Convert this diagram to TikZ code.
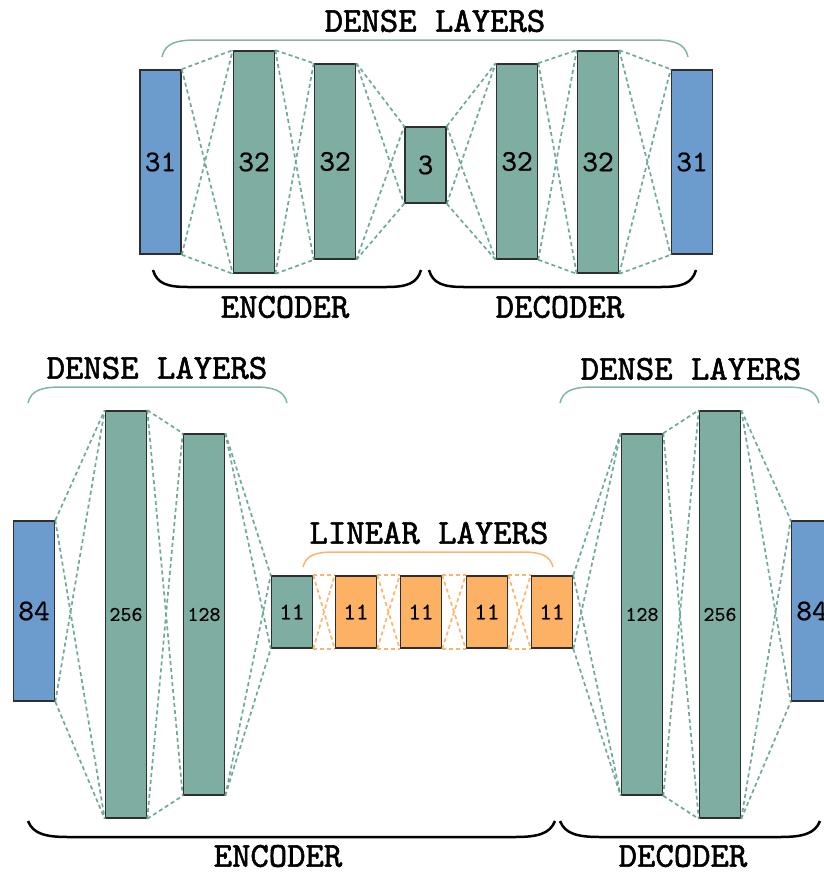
\documentclass[tikz,border=0pt]{standalone}
\usepackage{fontspec}
\newfontfamily\labfont{lmmono10-regular}[Extension=.otf, FakeBold=1.6]
\newfontfamily\numfont{lmmono10-regular}[Extension=.otf, FakeBold=0.6]
\definecolor{tealfill}{HTML}{7EADA2}
\definecolor{bluefill}{HTML}{6C9BCE}
\definecolor{orangefill}{HTML}{FDB165}
\definecolor{tealline}{HTML}{6FA99C}
\definecolor{orangeline}{HTML}{FDB46C}
\definecolor{tealbr}{HTML}{80B5A9}
\definecolor{orangebr}{HTML}{FDB46C}
\definecolor{boxline}{HTML}{2E2E2E}
\tikzset{
  layer/.style={draw=boxline, line width=1.6pt, inner sep=0pt, minimum width=41pt,
    font=\numfont\fontsize{30}{34}\selectfont},
  tl/.style={layer, fill=tealfill},
  bl/.style={layer, fill=bluefill},
  ol/.style={layer, fill=orangefill},
  conn/.style={draw=tealline, line width=1.7pt, dash pattern=on 4pt off 3pt},
  oconn/.style={draw=orangeline, line width=1.7pt, dash pattern=on 4pt off 3pt},
  tbrace/.style={draw=tealbr, line width=1.5pt},
  obrace/.style={draw=orangebr, line width=1.5pt},
  kbrace/.style={draw=black, line width=2.5pt},
  lab/.style={inner sep=0pt, font=\labfont\fontsize{35}{40}\selectfont},
  mid/.style={font=\numfont\fontsize{21}{24}\selectfont},
  sml/.style={font=\numfont\fontsize{24}{28}\selectfont}
}
\newcommand\linkup[3]{%
  \draw[#1] (#2.north east) -- (#3.north west);
  \draw[#1] (#2.south east) -- (#3.south west);
  \draw[#1] (#2.north east) -- (#3.south west);
  \draw[#1] (#2.south east) -- (#3.north west);}
\begin{document}
\begin{tikzpicture}[x=1pt,y=-1pt]
\useasboundingbox (0,0) rectangle (823,873);
% ---------- top network ----------
\node[bl, minimum height=184pt] (t1) at (160.5,162) {31};
\node[tl, minimum height=222pt] (t2) at (254,162) {32};
\node[tl, minimum height=195pt] (t3) at (335,161.5) {32};
\node[tl, minimum height=76pt]  (t4) at (425.5,165) {3};
\node[tl, minimum height=195pt] (t5) at (517,161.5) {32};
\node[tl, minimum height=222pt] (t6) at (598,162) {32};
\node[bl, minimum height=184pt] (t7) at (692,162) {31};
\linkup{conn}{t1}{t2}
\linkup{conn}{t2}{t3}
\linkup{conn}{t3}{t4}
\linkup{conn}{t4}{t5}
\linkup{conn}{t5}{t6}
\linkup{conn}{t6}{t7}
\draw[tbrace] (162,57) .. controls (165,43) and (176,40) .. (197,40) -- (653,40) .. controls (674,40) and (685,43) .. (688,57);
\node[lab] (tdense) at (435,21) {DENSE LAYERS};
\draw[kbrace] (153,270) .. controls (157,284) and (168,287) .. (188,287) -- (386,287) .. controls (406,287) and (417,284) .. (421,270);
\draw[kbrace] (429,270) .. controls (433,284) and (444,287) .. (464,287) -- (661,287) .. controls (681,287) and (692,284) .. (696,270);
\node[lab] (tenc) at (285,307) {ENCODER};
\node[lab] (tdec) at (560,307) {DECODER};
% ---------- bottom network ----------
\node[bl, minimum height=180pt] (b1) at (34,611) {84};
\node[tl, mid, minimum height=407pt] (b2) at (126,614.5) {256};
\node[tl, mid, minimum height=361pt] (b3) at (204,614.5) {128};
\node[tl, sml, minimum height=72pt] (b4) at (292,612) {11};
\node[ol, sml, minimum height=72pt] (b5) at (356,612) {11};
\node[ol, sml, minimum height=72pt] (b6) at (421,612) {11};
\node[ol, sml, minimum height=72pt] (b7) at (487,612) {11};
\node[ol, sml, minimum height=72pt] (b8) at (552,612) {11};
\node[tl, mid, minimum height=361pt] (b9) at (642,614.5) {128};
\node[tl, mid, minimum height=407pt] (b10) at (720,614.5) {256};
\node[bl, minimum height=180pt] (b11) at (812,611) {84};
\linkup{conn}{b1}{b2}
\linkup{conn}{b2}{b3}
\linkup{conn}{b3}{b4}
\linkup{oconn}{b4}{b5}
\linkup{oconn}{b5}{b6}
\linkup{oconn}{b6}{b7}
\linkup{oconn}{b7}{b8}
\linkup{conn}{b8}{b9}
\linkup{conn}{b9}{b10}
\linkup{conn}{b10}{b11}
\draw[tbrace] (28,403) .. controls (31,390) and (42,387) .. (62,387) -- (253,387) .. controls (273,387) and (284,390) .. (287,403);
\node[lab] (bdense1) at (157,368) {DENSE LAYERS};
\draw[tbrace] (560,403) .. controls (563,390) and (574,387) .. (594,387) -- (785,387) .. controls (805,387) and (816,390) .. (819,403);
\node[lab] (bdense2) at (691,369) {DENSE LAYERS};
\draw[obrace] (303,567) .. controls (306,555) and (316,552) .. (334,552) -- (522,552) .. controls (540,552) and (550,555) .. (553,567);
\node[lab] (blin) at (429,533) {LINEAR LAYERS};
\draw[kbrace] (28,821) .. controls (33,834) and (46,837) .. (68,837) -- (515,837) .. controls (537,837) and (550,834) .. (555,821);
\draw[kbrace] (560,821) .. controls (565,834) and (578,837) .. (600,837) -- (780,837) .. controls (802,837) and (815,834) .. (820,821);
\node[lab] (benc) at (278,856) {ENCODER};
\node[lab] (bdec) at (683,856) {DECODER};
\end{tikzpicture}
\end{document}
